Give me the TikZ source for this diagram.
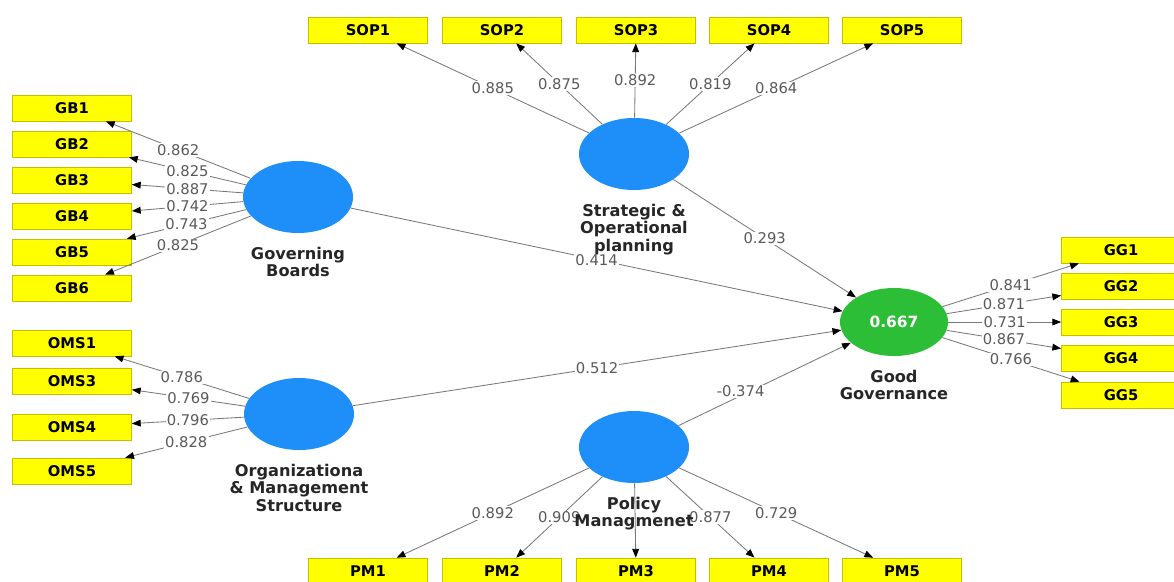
\documentclass[tikz,border=0pt]{standalone}
\usepackage{fontspec}
\setmainfont{DejaVu Sans}
\usetikzlibrary{arrows.meta, positioning, shapes.geometric}
\definecolor{plsBlue}{HTML}{1E8FF8}
\definecolor{plsGreen}{HTML}{2DBE37}
\definecolor{plsYellow}{HTML}{FFFF00}
\definecolor{plsFrame}{HTML}{C8BE00}
\definecolor{plsLine}{HTML}{787878}
\definecolor{plsText}{HTML}{5A5A5A}

\begin{document}
\begin{tikzpicture}[
    x=0.025cm, y=-0.025cm,
    latent/.style={
        ellipse,
        fill=plsBlue,
        minimum width=2.75cm,
        minimum height=1.8cm,
        inner sep=0pt
    },
    target/.style={
        latent,
        fill=plsGreen,
        minimum width=2.7cm,
        minimum height=1.7cm,
        text=white,
        font=\bfseries\fontsize{11}{13}\selectfont
    },
    item/.style={
        rectangle,
        fill=plsYellow,
        draw=plsFrame,
        line width=0.5pt,
        minimum width=2.975cm,
        minimum height=0.65cm,
        inner sep=0pt,
        font=\bfseries\fontsize{10.5}{12}\selectfont
    },
    latname/.style={
        align=center,
        inner sep=0pt,
        text=black!85,
        font=\bfseries\fontsize{11.5}{12.5}\selectfont
    },
    load/.style={
        -{Triangle[length=2.2mm, width=1.7mm, color=black]},
        draw=plsLine,
        line width=0.6pt
    },
    coef/.style={
        fill=white,
        inner sep=0.8pt,
        text=plsText,
        font=\fontsize{10.5}{12}\selectfont
    }
]
\clip (0,0) rectangle (1174,581);

% Latent variables
\node[latent] (sop) at (634,154) {};
\node[latent] (gb) at (298,197) {};
\node[latent] (oms) at (299,414) {};
\node[latent] (pm) at (634,447) {};
\node[target] (gg) at (894,322) {0.667};

% Strategic & Operational planning indicators
\node[item] (sop1) at (368,30) {SOP1};
\node[item] (sop2) at (502,30) {SOP2};
\node[item] (sop3) at (636,30) {SOP3};
\node[item] (sop4) at (769,30) {SOP4};
\node[item] (sop5) at (902,30) {SOP5};

% Governing Boards indicators
\node[item] (gb1) at (72,108) {GB1};
\node[item] (gb2) at (72,144) {GB2};
\node[item] (gb3) at (72,180) {GB3};
\node[item] (gb4) at (72,216) {GB4};
\node[item] (gb5) at (72,252) {GB5};
\node[item] (gb6) at (72,288) {GB6};

% Organizational & Management Structure indicators
\node[item] (oms1) at (72,343) {OMS1};
\node[item] (oms3) at (72,381) {OMS3};
\node[item] (oms4) at (72,427) {OMS4};
\node[item] (oms5) at (72,471) {OMS5};

% Policy Management indicators
\node[item] (pm1) at (368,571) {PM1};
\node[item] (pm2) at (502,571) {PM2};
\node[item] (pm3) at (636,571) {PM3};
\node[item] (pm4) at (769,571) {PM4};
\node[item] (pm5) at (902,571) {PM5};

% Good Governance indicators
\node[item] (gg1) at (1121,250) {GG1};
\node[item] (gg2) at (1121,286) {GG2};
\node[item] (gg3) at (1121,322) {GG3};
\node[item] (gg4) at (1121,358) {GG4};
\node[item] (gg5) at (1121,395) {GG5};

% Outer loadings
\draw[load] (sop) -- node[coef] {0.885} (sop1);
\draw[load] (sop) -- node[coef] {0.875} (sop2);
\draw[load] (sop) -- node[coef] {0.892} (sop3);
\draw[load] (sop) -- node[coef] {0.819} (sop4);
\draw[load] (sop) -- node[coef] {0.864} (sop5);

\draw[load] (gb) -- node[coef] {0.862} (gb1);
\draw[load] (gb) -- node[coef] {0.825} (gb2);
\draw[load] (gb) -- node[coef] {0.887} (gb3);
\draw[load] (gb) -- node[coef] {0.742} (gb4);
\draw[load] (gb) -- node[coef] {0.743} (gb5);
\draw[load] (gb) -- node[coef] {0.825} (gb6);

\draw[load] (oms) -- node[coef] {0.786} (oms1);
\draw[load] (oms) -- node[coef] {0.769} (oms3);
\draw[load] (oms) -- node[coef] {0.796} (oms4);
\draw[load] (oms) -- node[coef] {0.828} (oms5);

\draw[load] (pm) -- node[coef] {0.892} (pm1);
\draw[load] (pm) -- node[coef] {0.909} (pm2);
\draw[load] (pm) -- (pm3);
\draw[load] (pm) -- node[coef] {0.877} (pm4);
\draw[load] (pm) -- node[coef] {0.729} (pm5);

\draw[load] (gg) -- node[coef] {0.841} (gg1);
\draw[load] (gg) -- node[coef] {0.871} (gg2);
\draw[load] (gg) -- node[coef] {0.731} (gg3);
\draw[load] (gg) -- node[coef] {0.867} (gg4);
\draw[load] (gg) -- node[coef] {0.766} (gg5);

% Path coefficients
\draw[load] (gb) -- node[coef] {0.414} (gg);
\draw[load] (sop) -- node[coef] {0.293} (gg);
\draw[load] (oms) -- node[coef] {0.512} (gg);
\draw[load] (pm) -- node[coef, pos=0.36, yshift=3pt] {-0.374} (gg);

% Construct names
\node[latname, below=0.33cm of sop] (sopname) {Strategic \&\\Operational\\planning};
\node[latname, below=0.33cm of gb] (gbname) {Governing\\Boards};
\node[latname, below=0.33cm of oms] (omsname) {Organizationa\\\& Management\\Structure};
\node[latname, below=0.33cm of pm] (pmname) {Policy\\Managmenet};
\node[latname, below=0.33cm of gg] (ggname) {Good\\Governance};

\end{tikzpicture}
\end{document}
